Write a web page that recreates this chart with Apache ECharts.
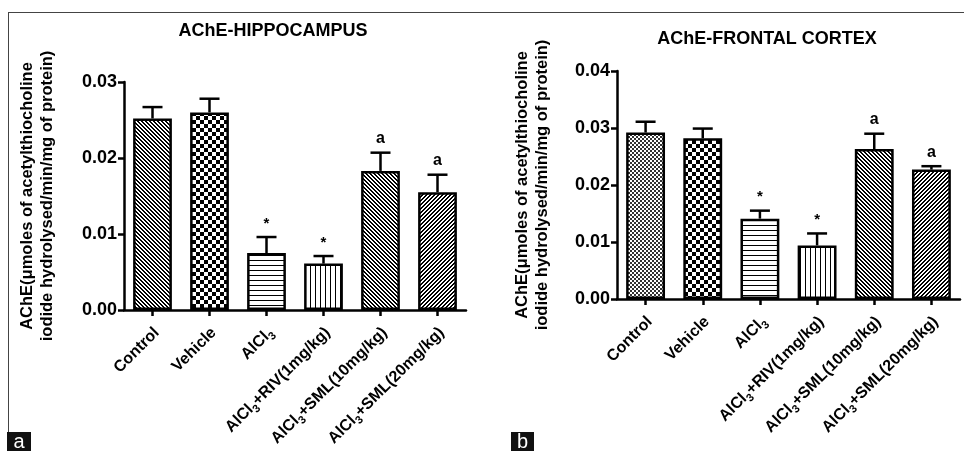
<!DOCTYPE html>
<html>
<head>
<meta charset="utf-8">
<script src="https://cdn.jsdelivr.net/npm/echarts@6/dist/echarts.min.js"></script>
<style>
html,body{margin:0;padding:0;background:#fff;}
#chart{width:964px;height:451px;}
</style>
</head>
<body>
<div id="chart"></div>
<script>
// ---- data ----
const categories = ['Control', 'Vehicle', 'AlCl3', 'AlCl3+RIV(1mg/kg)', 'AlCl3+SML(10mg/kg)', 'AlCl3+SML(20mg/kg)'];
const hippoMeans = [0.0252, 0.0260, 0.0075, 0.0061, 0.0183, 0.0155];
const hippoSEM   = [0.0015, 0.0018, 0.0021, 0.0010, 0.0024, 0.0023];
const hippoMarks = ['', '', '*', '*', 'a', 'a'];
const cortexMeans = [0.0292, 0.0282, 0.0141, 0.0094, 0.0263, 0.0227];
const cortexSEM   = [0.0019, 0.0017, 0.0014, 0.0021, 0.0027, 0.0006];
const cortexMarks = ['', '', '*', '*', 'a', 'a'];
const hippoYMax = 0.03;
const cortexYMax = 0.04;
const yInterval = 0.01;
const titles = ['AChE-HIPPOCAMPUS', 'AChE-FRONTAL CORTEX'];
const yName = 'AChE(\u03bcmoles of acetylthiocholine\niodide hydrolysed/min/mg of protein)';
const panelLetters = ['a', 'b'];

// ---- patterns ----
const FONT = '"Liberation Sans", Arial, sans-serif';
function makePattern(size, fn, ink) {
  const c = document.createElement('canvas');
  c.width = size; c.height = size;
  const ctx = c.getContext('2d');
  ctx.fillStyle = '#fff'; ctx.fillRect(0, 0, size, size);
  ctx.fillStyle = ink || '#000';
  for (let y = 0; y < size; y++) for (let x = 0; x < size; x++) if (fn(x, y)) ctx.fillRect(x, y, 1, 1);
  return { image: c, repeat: 'repeat' };
}
const P = {
  back: makePattern(4, (x, y) => ((x - y + 8) % 4) < 2),
  fwd: makePattern(4, (x, y) => ((x + y) % 4) < 2),
  checker: makePattern(8, (x, y) => ((Math.floor(x / 4) + Math.floor(y / 4)) % 2) === 0),
  fine: makePattern(4, (x, y) => ((Math.floor(x / 2) + Math.floor(y / 2)) % 2) === 0, '#333'),
  hor: makePattern(5, (x, y) => y === 0),
  ver: makePattern(5, (x, y) => x === 0)
};
const hippoPatterns = [P.back, P.checker, P.hor, P.ver, P.back, P.fwd];
const cortexPatterns = [P.fine, P.checker, P.hor, P.ver, P.back, P.fwd];

function labelFmt(v) {
  if (v.indexOf('AlCl3') === 0) return '{b|AlCl}{sub|3}{b|' + v.slice(5) + '}';
  return '{b|' + v + '}';
}

function errSeries(idx, means, sems, marks) {
  return {
    type: 'custom', xAxisIndex: idx, yAxisIndex: idx, z: 5,
    data: means.map((m, i) => [i, m, sems[i]]),
    renderItem: function (params, api) {
      const i = api.value(0), m = api.value(1), e = api.value(2);
      const b = api.coord([i, m]);
      const t = api.coord([i, m + e]);
      const mark = marks[i];
      const ch = [
        { type: 'line', shape: { x1: b[0], y1: b[1], x2: t[0], y2: t[1] }, style: { stroke: '#000', lineWidth: 2.5 } },
        { type: 'line', shape: { x1: t[0] - 10, y1: t[1], x2: t[0] + 10, y2: t[1] }, style: { stroke: '#000', lineWidth: 2.5 } }
      ];
      if (mark) ch.push({ type: 'text', style: { text: mark, x: t[0], y: t[1] - 6, align: 'center', verticalAlign: 'bottom', font: 'bold ' + (mark === '*' ? 15 : 16) + 'px ' + FONT, fill: '#000' } });
      return { type: 'group', children: ch };
    }
  };
}

function barSeries(idx, means, pats) {
  return {
    type: 'bar', xAxisIndex: idx, yAxisIndex: idx, barWidth: '68%',
    data: means.map((m, i) => ({ value: m, itemStyle: { color: pats[i] } })),
    itemStyle: { borderColor: '#000', borderWidth: 2.5 }
  };
}

const axisLine = { show: true, lineStyle: { color: '#000', width: 2.5 } };
function xAx(i) {
  return {
    type: 'category', gridIndex: i, data: categories,
    axisLine: axisLine,
    axisTick: { show: true, alignWithLabel: true, length: 6, lineStyle: { color: '#000', width: 2.5 } },
    axisLabel: {
      interval: 0, rotate: 45, margin: 16, color: '#000', formatter: labelFmt,
      padding: [12, 0, 0, 0],
      rich: {
        b: { fontSize: 16, fontWeight: 'bold', fontFamily: FONT, color: '#000', lineHeight: 22, verticalAlign: 'middle' },
        sub: { fontSize: 11, fontWeight: 'bold', fontFamily: FONT, color: '#000', lineHeight: 22, verticalAlign: 'bottom' }
      }
    }
  };
}
function yAx(i, max, gap) {
  return {
    type: 'value', gridIndex: i, min: 0, max: max, interval: yInterval,
    name: yName, nameLocation: 'middle', nameGap: gap,
    nameTextStyle: { fontSize: 16.5, fontWeight: 'bold', fontFamily: FONT, color: '#000', lineHeight: 20 },
    axisLine: axisLine,
    axisTick: { show: true, length: 6, lineStyle: { color: '#000', width: 2.5 } },
    splitLine: { show: false },
    axisLabel: { color: '#000', fontSize: 18, fontWeight: 'bold', fontFamily: FONT, margin: 7, formatter: v => v.toFixed(2) }
  };
}

const chart = echarts.init(document.getElementById('chart'), null, { renderer: 'canvas' });
chart.setOption({
  animation: false,
  backgroundColor: '#fff',
  title: [
    { text: titles[0], left: 273, top: 22, textAlign: 'center', padding: 0, textStyle: { fontSize: 18, fontWeight: 'bold', fontFamily: FONT, color: '#000' } },
    { text: titles[1], left: 767, top: 30, textAlign: 'center', padding: 0, textStyle: { fontSize: 18, fontWeight: 'bold', fontFamily: FONT, color: '#000' } }
  ],
  grid: [
    { left: 124, top: 82, width: 342, height: 229 },
    { left: 617, top: 71, width: 343, height: 228 }
  ],
  xAxis: [xAx(0), xAx(1)],
  yAxis: [yAx(0, hippoYMax, 67), yAx(1, cortexYMax, 65)],
  series: [
    barSeries(0, hippoMeans, hippoPatterns),
    errSeries(0, hippoMeans, hippoSEM, hippoMarks),
    barSeries(1, cortexMeans, cortexPatterns),
    errSeries(1, cortexMeans, cortexSEM, cortexMarks)
  ],
  graphic: [
    { type: 'line', shape: { x1: 8, y1: 12.5, x2: 964, y2: 12.5 }, style: { stroke: '#444', lineWidth: 1 } },
    { type: 'line', shape: { x1: 8.5, y1: 12, x2: 8.5, y2: 432 }, style: { stroke: '#444', lineWidth: 1 } },
    { type: 'rect', shape: { x: 7, y: 432, width: 24, height: 19 }, style: { fill: '#111' } },
    { type: 'text', style: { text: panelLetters[0], x: 19, y: 442, align: 'center', verticalAlign: 'middle', font: '20px ' + FONT, fill: '#fff' } },
    { type: 'rect', shape: { x: 511, y: 432, width: 23, height: 19 }, style: { fill: '#111' } },
    { type: 'text', style: { text: panelLetters[1], x: 522.5, y: 442, align: 'center', verticalAlign: 'middle', font: '20px ' + FONT, fill: '#fff' } }
  ]
});
</script>
</body>
</html>
